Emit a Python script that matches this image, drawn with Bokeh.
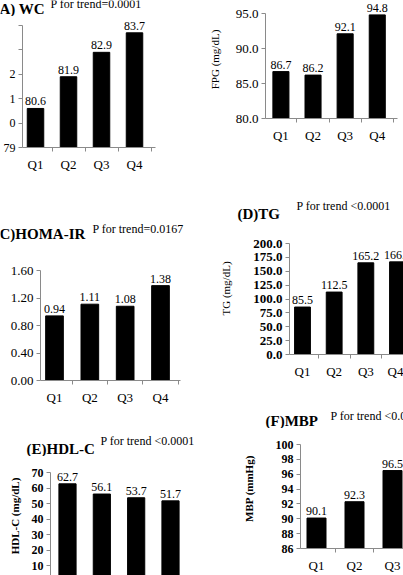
from bokeh.plotting import figure
from bokeh.models import Range1d, FixedTicker, Label, ColumnDataSource, PrintfTickFormatter
from bokeh.layouts import column, row
from bokeh.embed import file_html
from bokeh.resources import INLINE
from bokeh.core.properties import value

FONT = "Liberation Serif"
AXIS_GREY = "#8a8a8a"

# ---------------- data ----------------
quartiles = ["Q1", "Q2", "Q3", "Q4"]
wc_values = [80.6, 81.9, 82.9, 83.7]
fpg_values = [86.7, 86.2, 92.1, 94.8]
homa_values = [0.94, 1.11, 1.08, 1.38]
tg_values = [85.5, 112.5, 165.2, 166.9]
hdl_values = [62.7, 56.1, 53.7, 51.7]
mbp_values = [90.1, 92.3, 96.5]          # Q4 lies outside the cropped picture

wc_ticks = [79, 80, 81, 82, 83, 84]
wc_tick_labels = ["79", "0", "1", "2", "", ""]   # left part of these labels is cropped away
fpg_ticks = [80, 85, 90, 95]
homa_ticks = [0.0, 0.4, 0.8, 1.2, 1.6]
tg_ticks = [0, 25, 50, 75, 100, 125, 150, 175, 200]
hdl_ticks = [0, 10, 20, 30, 40, 50, 60, 70]
mbp_ticks = [86, 88, 90, 92, 94, 96, 98, 100]

panel_titles = ["(A) WC", None, "(C)HOMA-IR", "(D)TG", "(E)HDL-C", "(F)MBP"]
trend_texts = ["P for trend=0.0001", None, "P for trend=0.0167",
               "P for trend <0.0001", "P for trend <0.0001", "P for trend <0.0001"]
y_titles = [None, "FPG (mg/dL)", None, "TG (mg/dL)", "HDL-C (mg/dL)", "MBP (mmHg)"]


def lin(v_a, p_a, v_b, p_b):
    k = (v_b - v_a) / (p_b - p_a)
    return lambda p: v_a + (p - p_a) * k


def base_fig(**kw):
    p = figure(output_backend="svg", toolbar_location=None, title=None, **kw)
    p.outline_line_color = None
    p.background_fill_color = "white"
    p.border_fill_color = "white"
    p.frame_align = False
    return p


def header(W, hh, title, title_pos, trend, trend_pos):
    h = base_fig(width=W, height=hh, x_range=Range1d(0, W), y_range=Range1d(hh, 0),
                 x_axis_location=None, y_axis_location=None,
                 min_border_left=0, min_border_right=0,
                 min_border_top=0, min_border_bottom=0)
    h.xgrid.visible = False
    h.ygrid.visible = False
    if title:
        h.add_layout(Label(x=title_pos[0], y=title_pos[1], text=title,
                           text_font=FONT, text_font_size="15px",
                           text_font_style="bold", text_baseline="middle",
                           text_align="left", text_color="black"))
    if trend:
        h.add_layout(Label(x=trend_pos[0], y=trend_pos[1], text=trend,
                           text_font=FONT, text_font_size="12px",
                           text_baseline="middle", text_align="left",
                           text_color="black"))
    return h


def panel(values, ticks, base, bar_fmt, box, head, xa, ya, tick_fmt=None,
          tick_labels=None, tick_bold=False, tick_size="12px", title=None,
          title_pos=None, trend=None, trend_pos=None, ytitle=None,
          ytitle_standoff=10, ytitle_bold=False, show_x=True):
    W, H, L, R, B = box
    fx = lin(*xa)
    fy = lin(*ya)            # anchors in panel coordinates (header included)
    p = base_fig(width=W, height=H - head,
                 x_range=Range1d(fx(L), fx(W - R)),
                 y_range=Range1d(fy(H - B), fy(head)),
                 x_axis_location="below" if show_x else None,
                 min_border_left=L, min_border_right=R,
                 min_border_top=0, min_border_bottom=B)
    p.xgrid.visible = False
    p.ygrid.visible = False

    xs = list(range(1, len(values) + 1))
    src = ColumnDataSource(dict(x=xs, top=values,
                                label=[bar_fmt.format(v) for v in values]))
    p.vbar(x="x", top="top", bottom=base, width=0.5, source=src,
           fill_color="black", line_color="black")
    p.text(x="x", y="top", text="label", source=src, text_align="center",
           text_baseline="bottom", y_offset=-3, text_font=value(FONT),
           text_font_size="12px", text_color="black")

    if show_x:
        ax = p.xaxis[0]
        ax.ticker = FixedTicker(ticks=[1, 2, 3, 4], minor_ticks=[0.5, 1.5, 2.5, 3.5, 4.5])
        ax.major_label_overrides = {i + 1: q for i, q in enumerate(quartiles)}
        ax.major_tick_in = 0
        ax.major_tick_out = 0
        ax.minor_tick_in = 0
        ax.minor_tick_out = 4
        ax.axis_line_color = AXIS_GREY
        ax.minor_tick_line_color = AXIS_GREY
        ax.major_label_text_font = FONT
        ax.major_label_text_font_size = "13px"
        ax.major_label_text_color = "black"
        ax.major_label_standoff = 5

    ay = p.yaxis[0]
    ay.ticker = FixedTicker(ticks=ticks, minor_ticks=[])
    ay.bounds = (ticks[0], ticks[-1])
    if tick_labels is not None:
        ay.major_label_overrides = {t: s for t, s in zip(ticks, tick_labels)}
    elif tick_fmt is not None:
        ay.formatter = PrintfTickFormatter(format=tick_fmt)
    ay.major_tick_in = 0
    ay.major_tick_out = 4
    ay.major_label_standoff = 3
    ay.axis_line_color = AXIS_GREY
    ay.major_tick_line_color = AXIS_GREY
    ay.major_label_text_font = FONT
    ay.major_label_text_font_size = tick_size
    ay.major_label_text_font_style = "bold" if tick_bold else "normal"
    ay.major_label_text_color = "black"
    if ytitle:
        ay.axis_label = ytitle
        ay.axis_label_text_font = FONT
        ay.axis_label_text_font_size = "11px"
        ay.axis_label_text_font_style = "bold" if ytitle_bold else "normal"
        ay.axis_label_text_color = "black"
        ay.axis_label_standoff = ytitle_standoff

    if head > 0:
        return column(header(W, head, title, title_pos, trend, trend_pos), p, spacing=0)
    return p


pA = panel(wc_values, wc_ticks, wc_ticks[0], "{:.1f}",
           box=(205, 190, 22, 50, 43), head=16, xa=(1, 35, 4, 134), ya=(79, 147, 84, 25),
           tick_labels=wc_tick_labels, title=panel_titles[0], title_pos=(-6, 8),
           trend=trend_texts[0], trend_pos=(50, 3))

pB = panel(fpg_values, fpg_ticks, fpg_ticks[0], "{:.1f}",
           box=(198, 190, 55, 6, 72), head=0, xa=(1, 71, 4, 171), ya=(80, 118, 95, 13),
           tick_fmt="%.1f", tick_size="13px", ytitle=y_titles[1], ytitle_standoff=12)

pC = panel(homa_values, homa_ticks, homa_ticks[0], "{:.2f}",
           box=(205, 220, 40, 25, 30), head=52, xa=(1, 54, 4, 160), ya=(0, 190, 1.6, 80),
           tick_fmt="%.2f", tick_size="13px", title=panel_titles[2], title_pos=(-6, 43),
           trend=trend_texts[2], trend_pos=(92, 38))

pD = panel(tg_values, tg_ticks, tg_ticks[0], "{:.1f}",
           box=(198, 220, 84, 0, 56), head=32, xa=(1, 97, 4, 192), ya=(0, 164, 200, 53),
           tick_fmt="%.1f", tick_bold=True, tick_size="13px",
           title=panel_titles[3], title_pos=(32, 23),
           trend=trend_texts[3], trend_pos=(91, 15),
           ytitle=y_titles[3], ytitle_standoff=18)

pE = panel(hdl_values, hdl_ticks, hdl_ticks[0], "{:.1f}",
           box=(205, 165, 50, 10, 0), head=46, xa=(1, 67, 4, 170), ya=(10, 155, 70, 62),
           tick_fmt="%d", tick_bold=True, tick_size="12px",
           title=panel_titles[4], title_pos=(26, 38),
           trend=trend_texts[4], trend_pos=(100, 30),
           ytitle=y_titles[4], ytitle_standoff=8, ytitle_bold=True, show_x=False)

pF = panel(mbp_values, mbp_ticks, mbp_ticks[0], "{:.1f}",
           box=(198, 165, 95, 0, 20), head=18, xa=(1, 111, 3, 187), ya=(86, 145, 100, 35),
           tick_fmt="%d", tick_bold=True, tick_size="12px",
           title=panel_titles[5], title_pos=(60, 10),
           trend=trend_texts[5], trend_pos=(125, 5),
           ytitle=y_titles[5], ytitle_standoff=18, ytitle_bold=True)

layout = column(row(pA, pB, spacing=0), row(pC, pD, spacing=0),
                row(pE, pF, spacing=0), spacing=0)

open("out.html", "w").write(file_html(layout, INLINE))
